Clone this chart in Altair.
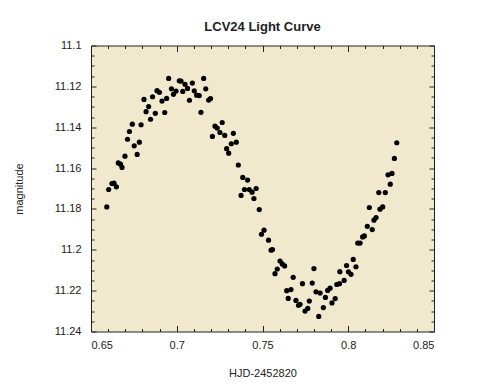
import altair as alt
import pandas as pd

hjd = [0.6592, 0.6603, 0.6622, 0.6634, 0.6648, 0.6659, 0.6672, 0.6681, 0.6698, 0.6713,
       0.6724, 0.6741, 0.6752, 0.6769, 0.6782, 0.6792, 0.6809, 0.6821, 0.6836, 0.6847,
       0.6859, 0.6875, 0.6885, 0.6899, 0.6914, 0.6930, 0.6941, 0.6953, 0.6969, 0.6981,
       0.6996, 0.7015, 0.7025, 0.7035, 0.7048, 0.7063, 0.7074, 0.7091, 0.7102, 0.7116,
       0.7131, 0.7141, 0.7157, 0.7169, 0.7186, 0.7197, 0.7208, 0.7223, 0.7236, 0.7252,
       0.7265, 0.7280, 0.7291, 0.7303, 0.7318, 0.7330, 0.7347, 0.7359, 0.7375, 0.7385,
       0.7395, 0.7413, 0.7423, 0.7439, 0.7450, 0.7463, 0.7481, 0.7494, 0.7509, 0.7535,
       0.7550, 0.7558, 0.7573, 0.7586, 0.7602, 0.7615, 0.7629, 0.7641, 0.7650, 0.7666,
       0.7679, 0.7695, 0.7710, 0.7719, 0.7733, 0.7748, 0.7764, 0.7773, 0.7790, 0.7800,
       0.7812, 0.7828, 0.7836, 0.7855, 0.7867, 0.7880, 0.7894, 0.7905, 0.7924, 0.7933,
       0.7949, 0.7951, 0.7976, 0.7990, 0.8001, 0.8016, 0.8029, 0.8045, 0.8055, 0.8069,
       0.8084, 0.8094, 0.8111, 0.8123, 0.8140, 0.8150, 0.8162, 0.8178, 0.8185, 0.8201,
       0.8216, 0.8232, 0.8245, 0.8255, 0.8269, 0.8283]
mag = [11.1790, 11.1705, 11.1676, 11.1674, 11.1692, 11.1575, 11.1581, 11.1597, 11.1542, 11.1459,
       11.1421, 11.1385, 11.1491, 11.1533, 11.1473, 11.1388, 11.1264, 11.1324, 11.1299, 11.1361,
       11.1251, 11.1332, 11.1221, 11.1229, 11.1272, 11.1328, 11.1259, 11.1161, 11.1212, 11.1239,
       11.1223, 11.1173, 11.1174, 11.1225, 11.1190, 11.1210, 11.1268, 11.1184, 11.1222, 11.1243,
       11.1245, 11.1327, 11.1161, 11.1212, 11.1267, 11.1260, 11.1445, 11.1395, 11.1404, 11.1426,
       11.1377, 11.1440, 11.1505, 11.1527, 11.1481, 11.1430, 11.1473, 11.1585, 11.1734, 11.1646,
       11.1705, 11.1659, 11.1705, 11.1718, 11.1749, 11.1700, 11.1803, 11.1924, 11.1904, 11.1953,
       11.2002, 11.1999, 11.2117, 11.2094, 11.2055, 11.2069, 11.2079, 11.2200, 11.2238, 11.2195,
       11.2135, 11.2248, 11.2272, 11.2267, 11.2166, 11.2300, 11.2287, 11.2251, 11.2163, 11.2092,
       11.2206, 11.2326, 11.2212, 11.2283, 11.2233, 11.2199, 11.2188, 11.2260, 11.2239, 11.2170,
       11.2166, 11.2107, 11.2150, 11.2077, 11.2108, 11.2120, 11.2047, 11.2083, 11.1967, 11.1967,
       11.1937, 11.1932, 11.1885, 11.1793, 11.1901, 11.1855, 11.1842, 11.1720, 11.1801, 11.1790,
       11.1720, 11.1633, 11.1679, 11.1626, 11.1553, 11.1476]

# Tick values
x_major = [0.65, 0.7, 0.75, 0.8, 0.85]
x_minor = [0.66, 0.67, 0.68, 0.69, 0.71, 0.72, 0.73, 0.74, 0.76, 0.77, 0.78, 0.79,
           0.81, 0.82, 0.83, 0.84]
y_major = [11.1, 11.12, 11.14, 11.16, 11.18, 11.2, 11.22, 11.24]
y_minor = [11.105, 11.11, 11.115, 11.125, 11.13, 11.135, 11.145, 11.15, 11.155,
           11.165, 11.17, 11.175, 11.185, 11.19, 11.195, 11.205, 11.21, 11.215,
           11.225, 11.23, 11.235]

df = pd.DataFrame({"hjd": hjd, "mag": mag})

FONT = "Liberation Sans"
INK = "#222222"

xscale = alt.Scale(domain=[0.65, 0.85], nice=False, zero=False)
yscale = alt.Scale(domain=[11.1, 11.24], nice=False, zero=False, reverse=True)


def tick_axis(orient, values, size, labels=False, title=None, **kw):
    args = dict(orient=orient, values=values, tickSize=size, offset=-size,
                domain=False, grid=False, labels=labels, tickColor=INK,
                tickWidth=1, minExtent=0)
    args["title"] = title
    args.update(kw)
    return alt.Axis(**args)


base = alt.Chart(df)

main = base.mark_circle(size=27, color="black", opacity=1).encode(
    x=alt.X("hjd:Q", scale=xscale,
            axis=tick_axis("bottom", x_major, 6, labels=True, title="HJD-2452820",
                           format="~g", labelFont=FONT, labelFontSize=11,
                           labelColor=INK, labelPadding=8, titleFont=FONT,
                           titleFontSize=11, titleFontWeight="normal",
                           titleColor=INK, titlePadding=17)),
    y=alt.Y("mag:Q", scale=yscale,
            axis=tick_axis("left", y_major, 5, labels=True, title="magnitude",
                           format="~g", labelFont=FONT, labelFontSize=11,
                           labelColor=INK, labelPadding=10, titleFont=FONT,
                           titleFontSize=11, titleFontWeight="normal",
                           titleColor=INK, titlePadding=30)),
)

minor_bl = base.mark_point(opacity=0).encode(
    x=alt.X("hjd:Q", scale=xscale, axis=tick_axis("bottom", x_minor, 3)),
    y=alt.Y("mag:Q", scale=yscale, axis=tick_axis("left", y_minor, 3)),
)
major_tr = base.mark_point(opacity=0).encode(
    x=alt.X("hjd:Q", scale=xscale, axis=tick_axis("top", x_major, 6)),
    y=alt.Y("mag:Q", scale=yscale, axis=tick_axis("right", y_major, 5)),
)
minor_tr = base.mark_point(opacity=0).encode(
    x=alt.X("hjd:Q", scale=xscale, axis=tick_axis("top", x_minor, 3)),
    y=alt.Y("mag:Q", scale=yscale, axis=tick_axis("right", y_minor, 3)),
)

chart = alt.layer(main, minor_bl, major_tr, minor_tr).resolve_axis(
    x="independent", y="independent"
).properties(
    width=343,
    height=286,
    title=alt.TitleParams("LCV24 Light Curve", font=FONT, fontSize=13,
                          fontWeight="bold", color=INK, anchor="middle",
                          baseline="bottom", offset=14, dy=21),
    autosize=alt.AutoSizeParams(type="none"),
    padding={"left": 83, "top": 37.5, "right": 40, "bottom": 50},
    background="white",
).configure_view(
    fill="#F1E9CD", stroke=INK, strokeWidth=1
)

chart.save("out.html", embed_options={"renderer": "svg", "actions": False})
